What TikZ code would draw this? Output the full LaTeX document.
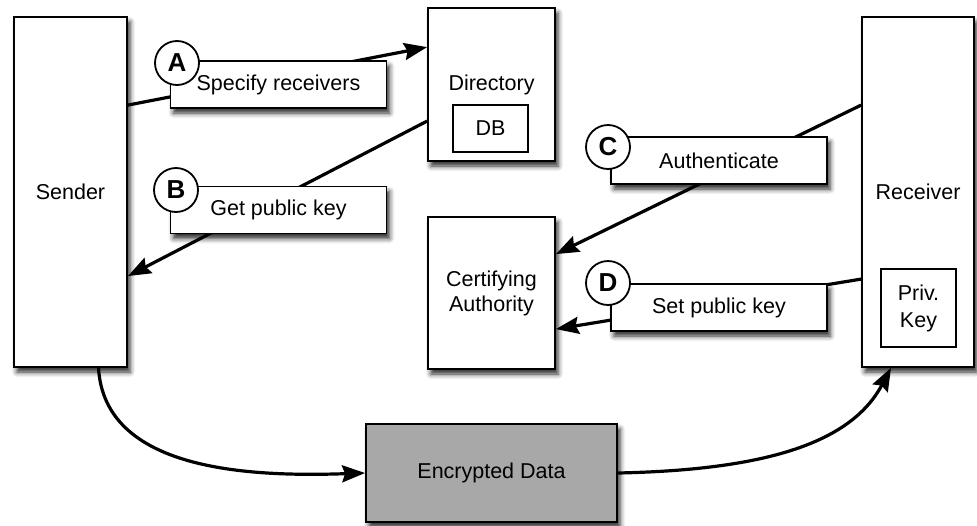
\documentclass[tikz,border=0pt]{standalone}
\usepackage{fontspec}
\setmainfont{Liberation Sans}
\usetikzlibrary{arrows.meta,shadows.blur}
\begin{document}
\begin{tikzpicture}[x=1pt,y=-1pt,
  every node/.style={font=\fontsize{21.5}{25}\selectfont},
  shad/.style={blur shadow={shadow xshift=3pt,shadow yshift=-5pt,shadow blur radius=5pt,shadow opacity=85}},
  box/.style={draw,line width=1.8pt,fill=white,rectangle,inner sep=0pt,align=center,shad},
  inbox/.style={draw,line width=1.5pt,fill=white,rectangle,inner sep=0pt,align=center},
  lbl/.style={box,minimum width=216pt,minimum height=47pt},
  badge/.style={draw,circle,line width=1.8pt,fill=white,minimum size=44pt,inner sep=0pt,font=\fontsize{26}{26}\selectfont\bfseries},
  conn/.style={line width=3.2pt,-{Stealth[length=23pt,width=17pt,inset=3pt]}},
  plain/.style={line width=3pt}
]
\useasboundingbox (0,0) rectangle (977,525);
% main boxes
\node[box,minimum width=113pt,minimum height=350pt] (sender) at (70.5,192) {Sender};
\node[box,minimum width=127pt,minimum height=153pt] (dir) at (491.5,84.5) {Directory};
\node[inbox,minimum width=75pt,minimum height=47pt] (db) at (490.5,128.5) {DB};
\node[box,minimum width=127pt,minimum height=152pt,font=\fontsize{21.5}{25}\selectfont] (ca) at (491.5,293) {Certifying\\Authority};
\node[box,minimum width=112pt,minimum height=350pt] (rec) at (918,192) {Receiver};
\node[inbox,minimum width=75pt,minimum height=78pt,font=\fontsize{21.5}{27}\selectfont] (priv) at (918.5,308) {Priv.\\Key};
\node[box,fill={rgb,255:red,168;green,168;blue,168},minimum width=251pt,minimum height=98pt] (enc) at (491.5,473) {Encrypted Data};
% connectors
\draw[conn] ([yshift=-89pt]sender.north east) -- ([yshift=-40pt]dir.north west);
\draw[conn] ([yshift=-114pt]dir.north west) -- ([yshift=-260pt]sender.north east);
\draw[conn] ([yshift=-89pt]rec.north west) -- ([yshift=-38pt]ca.north east);
\draw[conn] ([yshift=-263pt]rec.north west) -- ([yshift=-113pt]ca.north east);
\draw[conn] ([xshift=28pt]sender.south) .. controls +(6,103) and +(-116,4) .. (enc.west);
\draw[conn] (enc.east) .. controls +(143,-3) and +(-41,77) .. ([xshift=-27pt]rec.south);
% labels
\node[lbl] (la) at (278.5,84.5) {Specify receivers};
\node[lbl] (lb) at (278.5,210) {Get public key};
\node[lbl] (lc) at (719,160.5) {Authenticate};
\node[lbl] (ld) at (719,307.5) {Set public key};
\node[badge] (ba) at (177,63) {A};
\node[badge] (bb) at (176,190) {B};
\node[badge] (bc) at (608,147) {C};
\node[badge] (bd) at (608,283) {D};
\end{tikzpicture}
\end{document}
